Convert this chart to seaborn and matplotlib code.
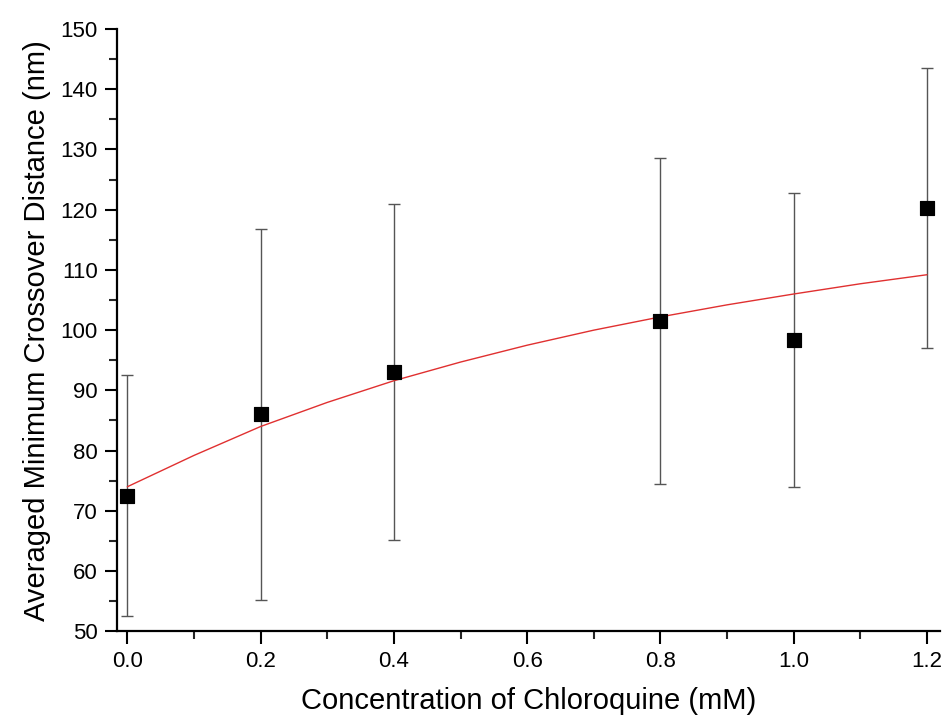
import matplotlib
matplotlib.use("Agg")
import matplotlib.pyplot as plt
import seaborn as sns
import pandas as pd
from matplotlib.ticker import MultipleLocator

# Data
conc = [0.0, 0.2, 0.4, 0.8, 1.0, 1.2]
distance = [72.5, 86.0, 93.0, 101.5, 98.3, 120.3]
err = [20.0, 30.8, 27.9, 27.1, 24.4, 23.2]

fit_x = [0.0, 0.1, 0.2, 0.3, 0.4, 0.5, 0.6, 0.7, 0.8, 0.9, 1.0, 1.1, 1.2]
fit_y = [74.0, 79.2, 84.0, 88.0, 91.6, 94.7, 97.5, 100.0, 102.2, 104.2, 106.0, 107.7, 109.2]

sns.set_theme(style="ticks")
plt.rcParams['font.family'] = ['Liberation Sans', 'DejaVu Sans']

df = pd.DataFrame({"conc": conc, "distance": distance, "err": err})
fit_df = pd.DataFrame({"x": fit_x, "y": fit_y})

fig, ax = plt.subplots(figsize=(9.46, 7.24), dpi=100)
fig.subplots_adjust(left=0.124, right=0.994, top=0.960, bottom=0.128)

ax.errorbar(df["conc"], df["distance"], yerr=df["err"], fmt="none",
            ecolor="#555555", elinewidth=1.0, capsize=4, capthick=1.0, zorder=2)
sns.lineplot(data=fit_df, x="x", y="y", ax=ax, color="#e03030", linewidth=1.0, zorder=3)
sns.scatterplot(data=df, x="conc", y="distance", ax=ax, marker="s", s=110,
                color="black", edgecolor="black", zorder=4)

ax.set_xlim(-0.015, 1.22)
ax.set_ylim(50, 150)
ax.xaxis.set_major_locator(MultipleLocator(0.2))
ax.xaxis.set_minor_locator(MultipleLocator(0.1))
ax.yaxis.set_major_locator(MultipleLocator(10))
ax.yaxis.set_minor_locator(MultipleLocator(5))
ax.xaxis.set_major_formatter(matplotlib.ticker.FormatStrFormatter("%.1f"))

sns.despine(ax=ax)
for s in ["left", "bottom"]:
    ax.spines[s].set_linewidth(1.6)
    ax.spines[s].set_color("black")
ax.tick_params(which="major", length=9, width=1.5, labelsize=16, colors="black",
               labelcolor="black", pad=5)
ax.tick_params(which="minor", length=5.5, width=1.5)

ax.set_xlabel("Concentration of Chloroquine (mM)", fontsize=21, labelpad=11, color="black")
ax.set_ylabel("Averaged Minimum Crossover Distance (nm)", fontsize=21, labelpad=7, color="black")

fig.savefig("out.png", dpi=100)
